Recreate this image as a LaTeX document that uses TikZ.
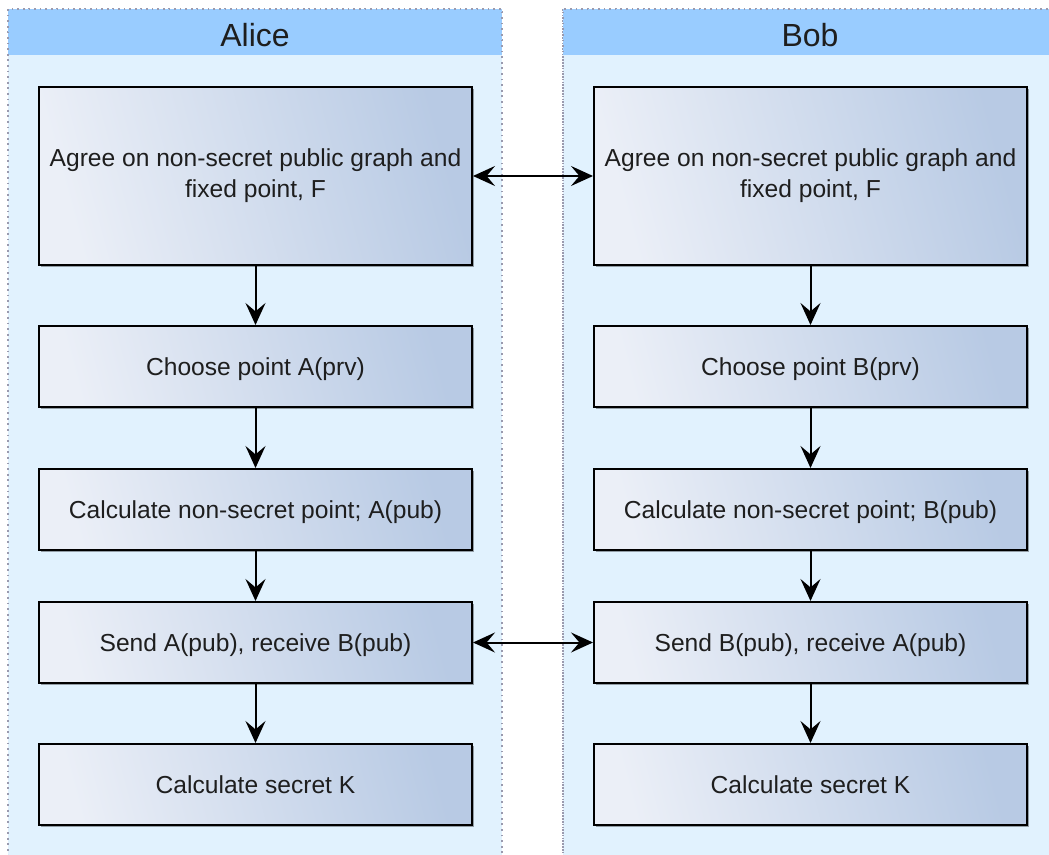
\documentclass[tikz,border=0pt]{standalone}
\usepackage{fontspec}
\setmainfont{Liberation Sans}
\usetikzlibrary{arrows.meta,shadows}

\definecolor{laneFill}{HTML}{E1F2FE}
\definecolor{laneHead}{HTML}{99CCFF}
\definecolor{laneLine}{HTML}{9A9AAE}
\definecolor{boxLight}{HTML}{EBEFF7}
\definecolor{boxDark}{HTML}{B8CAE4}
\definecolor{inkText}{HTML}{1E1E1E}

\tikzset{
  lane/.style={fill=laneFill, draw=laneLine, line width=0.8pt, dotted},
  lanehead/.style={fill=laneHead, draw=none},
  headtext/.style={text=inkText, font=\fontsize{16}{19}\selectfont},
  boxbase/.style={draw=black, line width=1pt, left color=boxLight, right color=boxDark,
    shading angle=105, inner sep=0pt, minimum width=216.5pt,
    align=center, text=inkText, font=\fontsize{12.3}{15.5}\selectfont,
    drop shadow={shadow xshift=0.9pt, shadow yshift=-0.9pt, opacity=0.35, fill=black}},
  stepbox/.style={boxbase, minimum height=40.5pt, text height=12pt, text depth=2.6pt},
  tallbox/.style={boxbase, minimum height=89pt},
  flow/.style={line width=1pt, -{Stealth[length=11pt, width=10pt, inset=4.2pt]}},
  both/.style={line width=1pt, {Stealth[length=11pt, width=10pt, inset=4.2pt]}-{Stealth[length=11pt, width=10pt, inset=4.2pt]}}
}

\begin{document}
\begin{tikzpicture}[x=0.5pt, y=-0.5pt]
  \useasboundingbox (0,0) rectangle (1049,855);
  \clip (0,0) rectangle (1049,855);

  % swimlanes
  \draw[lane] (8,9) rectangle (502,870);
  \fill[lanehead] (8,9) rectangle (502,55);
  \draw[laneLine, line width=0.8pt, dotted] (502,870) -- (502,9) -- (8,9) -- (8,870);
  \node[headtext] (alicehead) at (255,35) {Alice};

  \draw[lane] (563,9) rectangle (1070,870);
  \fill[lanehead] (563,9) rectangle (1070,55);
  \draw[laneLine, line width=0.8pt, dotted] (1070,9) -- (563,9) -- (563,870);
  \node[headtext] (bobhead) at (810,35) {Bob};

  % Alice's steps
  \node[tallbox] (a1) at (255.5,176) {Agree on non-secret public graph and\\fixed point, F};
  \node[stepbox] (a2) at (255.5,366.5) {Choose point A(prv)};
  \node[stepbox] (a3) at (255.5,509.5) {Calculate non-secret point; A(pub)};
  \node[stepbox] (a4) at (255.5,642.5) {Send A(pub), receive B(pub)};
  \node[stepbox] (a5) at (255.5,784.5) {Calculate secret K};

  % Bob's steps
  \node[tallbox] (b1) at (810.5,176) {Agree on non-secret public graph and\\fixed point, F};
  \node[stepbox] (b2) at (810.5,366.5) {Choose point B(prv)};
  \node[stepbox] (b3) at (810.5,509.5) {Calculate non-secret point; B(pub)};
  \node[stepbox] (b4) at (810.5,642.5) {Send B(pub), receive A(pub)};
  \node[stepbox] (b5) at (810.5,784.5) {Calculate secret K};

  % flow within each lane
  \draw[flow] (a1) -- (a2);
  \draw[flow] (a2) -- (a3);
  \draw[flow] (a3) -- (a4);
  \draw[flow] (a4) -- (a5);
  \draw[flow] (b1) -- (b2);
  \draw[flow] (b2) -- (b3);
  \draw[flow] (b3) -- (b4);
  \draw[flow] (b4) -- (b5);

  % exchanges between the parties
  \draw[both] (a1) -- (b1);
  \draw[both] (a4) -- (b4);
\end{tikzpicture}
\end{document}
